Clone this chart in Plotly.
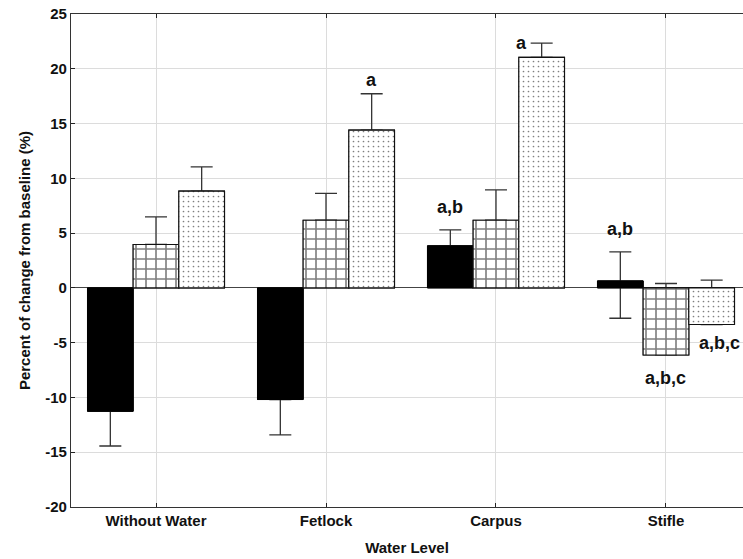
import plotly.graph_objects as go

# Water level conditions and percent change from baseline for three groups
categories = ["Without Water", "Fetlock", "Carpus", "Stifle"]

solid_vals = [-11.26, -10.19, 3.84, 0.64]
solid_err_up = [0.0, 0.0, 1.46, 2.65]
solid_err_down = [3.17, 3.23, 0.0, 3.41]

grid_vals = [3.96, 6.18, 6.18, -6.12]
grid_err_up = [2.52, 2.44, 2.77, 6.52]
grid_err_down = [0.0, 0.0, 0.0, 0.0]

dot_vals = [8.83, 14.40, 21.04, -3.34]
dot_err_up = [2.22, 3.32, 1.31, 4.04]
dot_err_down = [0.0, 0.0, 0.0, 0.0]

y_ticks = [-20, -15, -10, -5, 0, 5, 10, 15, 20, 25]

FONT = "Liberation Sans, Arial, sans-serif"
BARGAP = 0.194
bar_w = (1 - BARGAP) / 3

styles = [
    dict(color="black", line=dict(color="black", width=1)),
    dict(color="white", line=dict(color="#111", width=1.1),
         pattern=dict(shape="+", size=10, solidity=0.3, fgcolor="#000",
                      fillmode="overlay")),
    dict(color="white", line=dict(color="#111", width=1.1),
         pattern=dict(shape=".", size=5, solidity=0.09, fgcolor="#000",
                      fillmode="overlay")),
]
series = [
    (solid_vals, solid_err_up, solid_err_down),
    (grid_vals, grid_err_up, grid_err_down),
    (dot_vals, dot_err_up, dot_err_down),
]

fig = go.Figure()
for k, ((vals, eu, ed), mk) in enumerate(zip(series, styles)):
    # bar with its error bar underneath ...
    fig.add_trace(go.Bar(
        x=categories, y=vals, offsetgroup=str(k), marker=mk, showlegend=False,
        error_y=dict(type="data", symmetric=False, array=eu, arrayminus=ed,
                     color="#333", thickness=1.3, width=11),
        hoverinfo="skip",
    ))
    # ... and the same bar again on top so the whisker stays hidden inside it
    fig.add_trace(go.Bar(
        x=categories, y=vals, offsetgroup=str(k), marker=mk, showlegend=False,
    ))

# significance letters
labels = [
    # (category index, series index, text, anchor value, xanchor, yanchor, xshift, yshift)
    (1, 2, "a", dot_vals[1] + dot_err_up[1], "center", "bottom", 0, 2),
    (2, 2, "a", dot_vals[2] + dot_err_up[2], "right", "middle", -13, 0),
    (2, 0, "a,b", solid_vals[2] + solid_err_up[2], "center", "bottom", 0, 11),
    (3, 0, "a,b", solid_vals[3] + solid_err_up[3], "center", "bottom", 0, 11),
    (3, 1, "a,b,c", grid_vals[3], "center", "top", 0, -11),
    (3, 2, "a,b,c", dot_vals[3], "center", "top", 8, -7),
]
for ci, si, txt, yv, xa, ya, xs, ys in labels:
    fig.add_annotation(
        x=ci + (si - 1) * bar_w, y=yv, xref="x", yref="y", text=txt,
        showarrow=False, xanchor=xa, yanchor=ya, xshift=xs, yshift=ys,
        font=dict(family=FONT, size=18, color="#111", weight="bold"),
    )

fig.update_layout(
    width=743, height=559,
    margin=dict(l=71, r=0, t=14, b=52),
    paper_bgcolor="white", plot_bgcolor="white",
    barmode="group", bargap=BARGAP, bargroupgap=0,
    font=dict(family=FONT, size=15, color="#111", weight="bold"),
)
fig.update_xaxes(
    range=[-0.5, 3.453],
    showgrid=True, gridcolor="#dcdcdc", gridwidth=1,
    showline=True, linecolor="#333", linewidth=1.3, mirror="ticks",
    ticks="inside", ticklen=4, tickcolor="#222",
    tickfont=dict(family=FONT, size=15, color="#111", weight="bold"),
    title=dict(text="Water Level", standoff=14,
               font=dict(family=FONT, size=15, color="#111", weight="bold")),
)
fig.update_yaxes(
    range=[-20, 25], tickvals=y_ticks, ticktext=[str(v) for v in y_ticks],
    showgrid=True, gridcolor="#dcdcdc", gridwidth=1,
    zeroline=True, zerolinecolor="#444", zerolinewidth=1,
    showline=True, linecolor="#333", linewidth=1.3,
    ticks="inside", ticklen=4, tickcolor="#222",
    tickfont=dict(family=FONT, size=15, color="#111", weight="bold"),
    title=dict(text="Percent of change from baseline (%)", standoff=10,
               font=dict(family=FONT, size=15, color="#111", weight="bold")),
)

fig.write_html("out.html")
